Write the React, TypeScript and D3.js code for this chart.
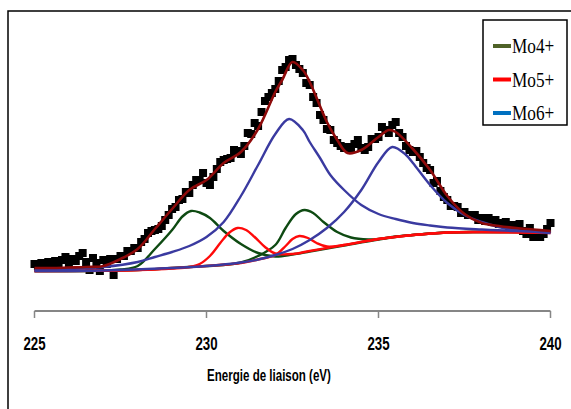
import React from "react";
import * as d3 from "d3";

// Binding-energy axis (eV)
const ENERGY_DOMAIN: [number, number] = [225, 240];
const ENERGY_TICKS = [225, 230, 235, 240];

// Measured spectrum: one point every 0.1 eV from 225 eV (intensity, a.u.)
const SCAN_START = 225;
const SCAN_STEP = 0.1;
const measured = [
  47, 45, 48, 44, 49, 47, 50, 46, 51, 54,
  48, 52, 50, 55, 58, 49, 41, 53, 48, 40,
  51, 47, 52, 36, 52, 55, 55, 60, 60, 63,
  63, 69, 72, 78, 80, 81, 82, 85, 91, 96,
  102, 104, 111, 112, 119, 118, 126, 131, 131, 138,
  128, 126, 134, 142, 149, 151, 152, 153, 161, 160,
  157, 165, 178, 177, 188, 185, 199, 210, 214, 218,
  222, 230, 241, 244, 251, 252, 246, 242, 238, 228,
  226, 214, 208, 196, 191, 182, 181, 171, 168, 165,
  163, 164, 162, 167, 171, 163, 161, 164, 172, 172,
  174, 184, 181, 178, 186, 189, 178, 174, 165, 161,
  159, 160, 154, 148, 143, 141, 128, 130, 120, 114,
  111, 105, 105, 104, 98, 99, 96, 96, 96, 91,
  93, 90, 93, 89, 91, 87, 88, 89, 85, 86,
  85, 87, 80, 77, 83, 74, 78, 74, 77, 82,
  88,
];

// Fitted components (energy eV, intensity a.u.), each drawn on its background
const mo4First: [number, number][] = [
  [225, 40], [226, 40], [227, 40.5], [227.5, 41.5], [228, 45], [228.5, 62], [229, 81],
  [229.3, 94.5], [229.55, 100], [229.8, 98.5], [230.1, 93], [230.5, 80], [231, 67],
  [231.5, 58], [232, 54.5], [232.5, 56.5], [233, 59.5], [233.5, 62.5], [234, 65.5],
  [235, 71.5], [236, 76], [237, 78.5], [238, 79], [240, 79],
];
const mo4Second: [number, number][] = [
  [225, 40], [228, 41], [229, 43], [230, 45], [230.5, 46], [231, 48.5], [231.5, 55],
  [232, 66], [232.3, 83], [232.6, 97], [232.85, 101], [233.1, 98], [233.4, 89],
  [233.8, 79], [234.2, 73.5], [234.7, 71.5], [235, 72], [235.5, 74.5], [236, 76],
  [237, 78.5], [238, 79], [240, 79],
];
const mo5First: [number, number][] = [
  [225, 40], [227, 40.5], [228, 41], [229, 42.5], [229.5, 44], [229.8, 47], [230.1, 55],
  [230.4, 68], [230.65, 78], [230.9, 83], [231.15, 81], [231.4, 74], [231.7, 64],
  [232, 57.5], [232.5, 57], [233, 60], [234, 66], [235, 72], [236, 76], [237, 78.5],
  [238, 79], [240, 79],
];
const mo5Second: [number, number][] = [
  [225, 40], [228, 41], [229, 43], [230, 45], [231, 48], [231.5, 51.5], [232, 56],
  [232.3, 65], [232.5, 72], [232.7, 75], [232.95, 73], [233.2, 68], [233.5, 64.5],
  [234, 66], [235, 72], [236, 76], [237, 78.5], [238, 79], [240, 78],
];
const mo6First: [number, number][] = [
  [225, 41], [226, 42], [227, 44], [228, 49], [228.5, 54], [229, 59], [229.5, 65],
  [230, 74], [230.5, 89], [231, 115], [231.5, 146], [232, 177], [232.4, 192],
  [232.8, 181], [233, 169], [233.3, 153], [233.6, 136], [234, 121], [234.5, 106],
  [235, 97], [235.5, 92], [236, 88], [236.5, 85.5], [237, 83.5], [238, 81.5],
  [239, 80], [240, 79.5],
];
const mo6Second: [number, number][] = [
  [225, 40], [227, 40.5], [229, 43], [230, 45], [231, 48.5], [231.5, 51.5], [232, 56],
  [232.5, 62], [233, 71], [233.5, 83], [234, 99], [234.5, 121], [235, 149],
  [235.4, 164], [235.8, 156], [236, 148], [236.5, 126], [237, 108], [237.5, 96],
  [238, 89], [238.5, 84], [239, 81], [240, 78],
];
// Sum of all components
const envelope: [number, number][] = [
  [225, 43], [225.5, 43], [226, 43.5], [226.5, 44], [227, 45], [227.5, 52], [228, 62],
  [228.5, 82], [229, 102], [229.5, 121], [230, 131], [230.5, 148], [231, 159],
  [231.5, 182], [232, 219], [232.2, 231], [232.5, 249], [232.8, 241], [233, 229],
  [233.5, 189], [233.8, 171], [234.1, 158], [234.5, 161], [235, 174], [235.3, 181],
  [235.5, 179], [236, 162], [236.5, 141], [237, 115], [237.5, 97], [238, 88],
  [238.5, 85], [239, 83], [239.5, 81.5], [240, 80],
];

const LEGEND = [
  { label: "Mo4+", color: "#4f6228" },
  { label: "Mo5+", color: "#ff0000" },
  { label: "Mo6+", color: "#0070c0" },
];

const GREEN = "#0e4a12";
const RED = "#ff0a0a";
const BLUE = "#3a3aa0";
const DARK_RED = "#8e0a0a";

// Horizontally condensed text (narrow bold face look)
function Condensed(props: {
  x: number;
  y: number;
  sx: number;
  size: number;
  anchor?: "start" | "middle" | "end";
  family: string;
  weight?: string;
  children: React.ReactNode;
}) {
  const { x, y, sx, size, anchor = "middle", family, weight = "normal", children } = props;
  return (
    <text
      transform={`translate(${x},${y}) scale(${sx},1)`}
      textAnchor={anchor}
      fontFamily={family}
      fontWeight={weight}
      fontSize={size}
      fill="#000"
    >
      {children}
    </text>
  );
}

export default function App() {
  const x = d3.scaleLinear().domain(ENERGY_DOMAIN).range([34.5, 550.5]);
  const y = d3.scaleLinear().domain([0, 260]).range([311, 51]);

  const line = d3
    .line<[number, number]>()
    .x((d) => x(d[0]))
    .y((d) => y(d[1]))
    .curve(d3.curveCatmullRom.alpha(0.5));

  const points = measured.map((v, i) => [SCAN_START + i * SCAN_STEP, v] as [number, number]);
  const sq = 8;
  const axisY = y(0);

  const sans = "'Liberation Sans', Arial, sans-serif";
  const serif = "'Liberation Serif', 'Times New Roman', serif";

  return (
    <svg
      width={571}
      height={409}
      style={{ position: "fixed", left: 0, top: 0, background: "#fff" }}
    >
      <rect x={0} y={0} width={571} height={409} fill="#fff" />
      {/* outer frame */}
      <path d="M8,409 L8,11 L571,11" fill="none" stroke="#000" strokeWidth={1.5} />

      {/* measured points */}
      <g fill="#000">
        {points.map((d, i) => (
          <rect key={i} x={x(d[0]) - sq / 2} y={y(d[1]) - sq / 2} width={sq} height={sq} />
        ))}
      </g>

      {/* fitted components */}
      <g fill="none" strokeWidth={2.4} strokeLinejoin="round">
        <path d={line(mo4First) ?? ""} stroke={GREEN} />
        <path d={line(mo4Second) ?? ""} stroke={GREEN} />
        <path d={line(mo5First) ?? ""} stroke={RED} />
        <path d={line(mo5Second) ?? ""} stroke={RED} />
        <path d={line(mo6First) ?? ""} stroke={BLUE} />
        <path d={line(mo6Second) ?? ""} stroke={BLUE} />
        <path d={line(envelope) ?? ""} stroke={DARK_RED} strokeWidth={2.6} />
      </g>

      {/* x axis */}
      <g>
        <line x1={x(225)} x2={x(240)} y1={axisY} y2={axisY} stroke="#868686" strokeWidth={2} />
        {ENERGY_TICKS.map((t) => (
          <g key={t}>
            <line x1={x(t)} x2={x(t)} y1={axisY} y2={axisY + 7} stroke="#868686" strokeWidth={1.5} />
            <Condensed x={x(t)} y={349.5} sx={0.7} size={19} family={sans} weight="bold">
              {t}
            </Condensed>
          </g>
        ))}
        <Condensed x={269} y={381} sx={0.68} size={17} family={sans} weight="bold">
          Energie de liaison (eV)
        </Condensed>
      </g>

      {/* legend */}
      <g>
        <rect x={483} y={20} width={84} height={105} fill="#fff" stroke="#000" strokeWidth={1.5} />
        {LEGEND.map((d, i) => {
          const cy = 46 + i * 33.5;
          return (
            <g key={d.label}>
              <line x1={493} x2={511} y1={cy} y2={cy} stroke={d.color} strokeWidth={4} />
              <Condensed x={512} y={cy + 7} sx={0.82} size={21} family={serif} anchor="start">
                {d.label}
              </Condensed>
            </g>
          );
        })}
      </g>
    </svg>
  );
}
